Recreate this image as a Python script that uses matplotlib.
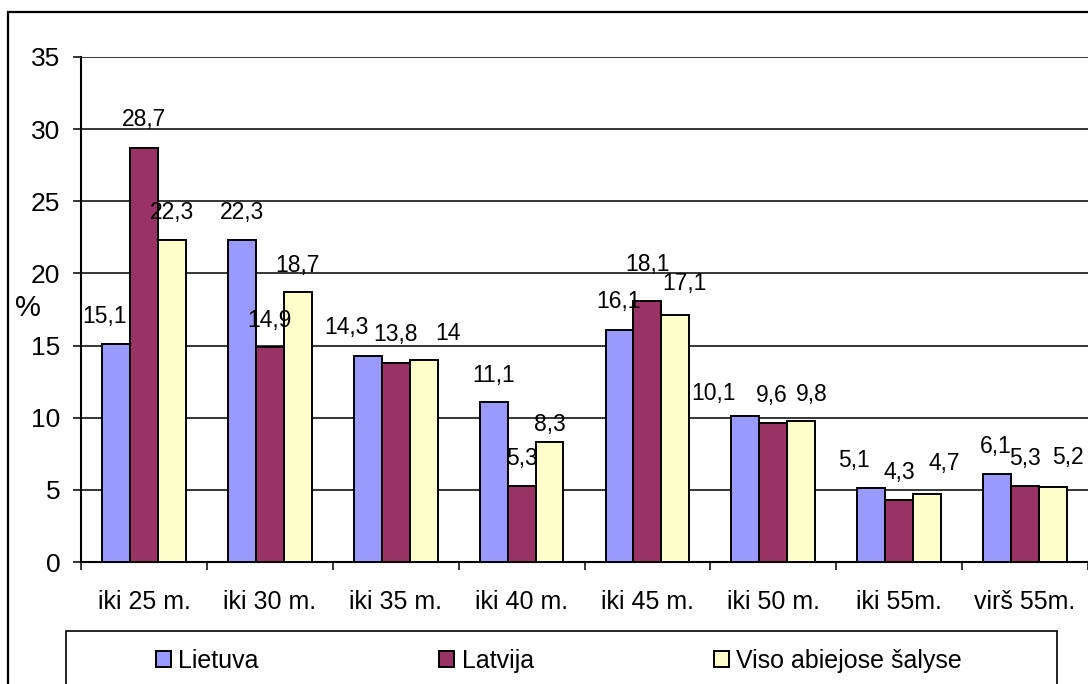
import matplotlib
matplotlib.use("Agg")
import matplotlib.pyplot as plt
from matplotlib.patches import Rectangle
import numpy as np

plt.rcParams['font.family'] = ['Liberation Sans', 'DejaVu Sans']

# Amžiaus grupės ir pasiskirstymas procentais
categories = ['iki 25 m.', 'iki 30 m.', 'iki 35 m.', 'iki 40 m.',
              'iki 45 m.', 'iki 50 m.', 'iki 55m.', 'virš 55m.']
lietuva = [15.1, 22.3, 14.3, 11.1, 16.1, 10.1, 5.1, 6.1]
latvija = [28.7, 14.9, 13.8, 5.3, 18.1, 9.6, 4.3, 5.3]
viso = [22.3, 18.7, 14.0, 8.3, 17.1, 9.8, 4.7, 5.2]
series_names = ['Lietuva', 'Latvija', 'Viso abiejose šalyse']
colors = ['#9999FF', '#993366', '#FFFFCC']

# etikečių poslinkiai (px): horizontaliai ir virš stulpelio
label_dx = [[-11, 0, -21, 0, -1, -32, -17, -1],
            [0, 0, 0, 0, 0, -2, 0, 0],
            [0, 0, 24, 0, 9, 10, 17, 15]]
label_dy = [[28, 28, 28, 26, 28, 23, 28, 27],
            [28, 27, 28, 27, 36, 28, 27, 27],
            [28, 27, 27, 18, 32, 26, 31, 29]]

W, H = 1088, 684
fig = plt.figure(figsize=(W / 100, H / 100), dpi=100)
ax = fig.add_axes([81 / W, 1 - 562 / H, 1 - 81 / W, (562 - 57) / H])

x = np.arange(len(categories))
bw = 0.222
all_series = [lietuva, latvija, viso]
for i, (vals, name, col) in enumerate(zip(all_series, series_names, colors)):
    pos = x + (i - 1) * bw
    ax.bar(pos, vals, width=bw, color=col, edgecolor='black',
           linewidth=1.4, label=name, zorder=3)
    for j, v in enumerate(vals):
        ax.annotate(f"{v:g}".replace('.', ','), (pos[j], v),
                    xytext=(label_dx[i][j], label_dy[i][j]),
                    textcoords='offset pixels', ha='center', va='center',
                    fontsize=16.5, zorder=4)

ax.set_xlim(-0.5, len(categories) - 0.5)
ax.set_ylim(0, 35)
ax.set_yticks(np.arange(0, 36, 5))
ax.yaxis.grid(True, color='black', linewidth=1.1, zorder=0)
ax.set_axisbelow(True)
ax.tick_params(axis='y', labelsize=19, length=6, width=1.1, pad=9,
               direction='out')

# skiriamosios žymos tarp grupių, pavadinimai grupių viduryje
ax.set_xticks(np.arange(-0.5, len(categories)), labels=[''] * (len(categories) + 1))
ax.set_xticks(x, labels=categories, minor=True)
ax.tick_params(axis='x', which='major', length=6, width=1.1, direction='out')
ax.tick_params(axis='x', which='minor', length=0, labelsize=18, pad=20)

for s in ['top', 'right']:
    ax.spines[s].set_visible(False)
for s in ['left', 'bottom']:
    ax.spines[s].set_linewidth(1.5)

fig.text(28 / W, 1 - 308 / H, '%', fontsize=21, ha='center', va='center')

# diagramos rėmelis ir legendos rėmelis
fig.patches.append(Rectangle((8 / W, -0.1), 1.2, 1 - 12 / H + 0.1,
                             transform=fig.transFigure, fill=False,
                             edgecolor='black', linewidth=1.6))
fig.patches.append(Rectangle((66 / W, -0.1), (1057 - 66) / W, 1 - 631 / H + 0.1,
                             transform=fig.transFigure, fill=False,
                             edgecolor='black', linewidth=1.2))

fig.legend(loc='center left', bbox_to_anchor=(156 / W, 1 - 661 / H),
           ncol=3, frameon=False, fontsize=18, borderpad=0, borderaxespad=0,
           handlelength=0.6, handleheight=0.58, handletextpad=0.3,
           columnspacing=7.2)

fig.savefig('out.png', dpi=100)
